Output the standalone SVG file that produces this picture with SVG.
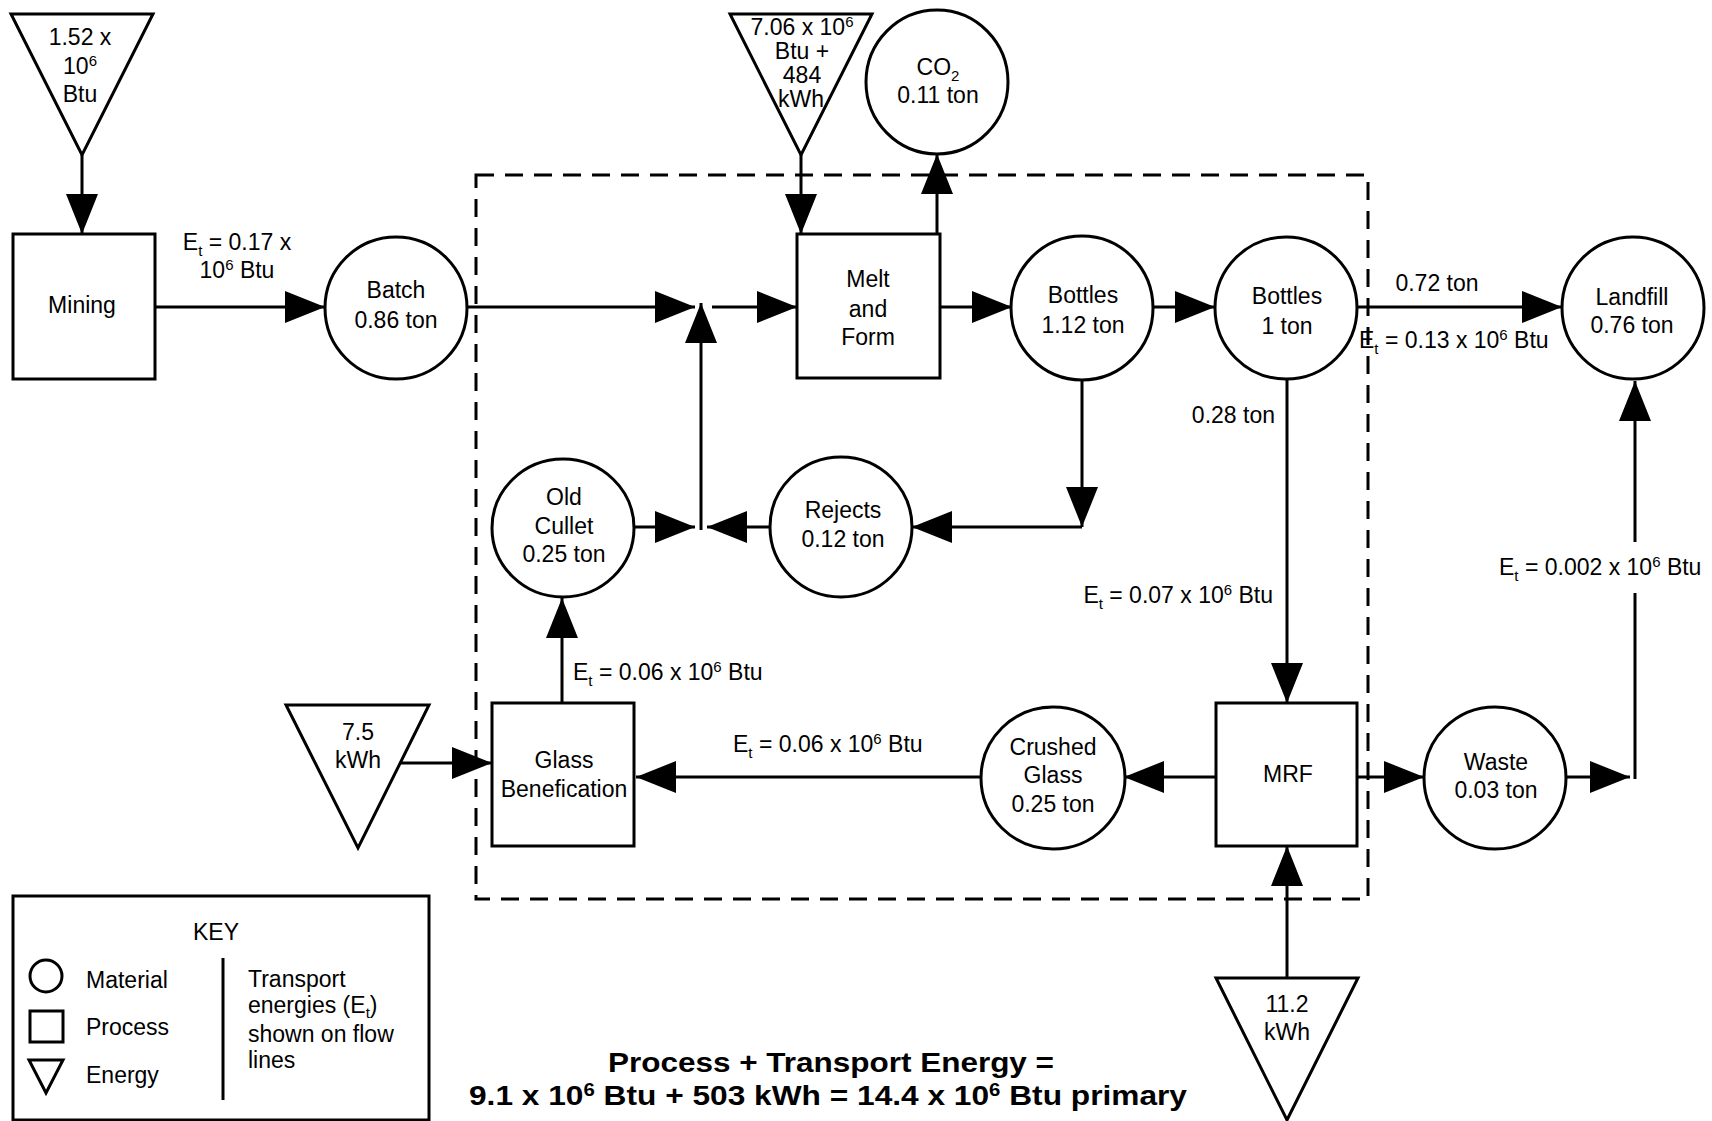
<svg xmlns="http://www.w3.org/2000/svg" width="1712" height="1121" viewBox="0 0 1712 1121">
<style>
text{font-family:"Liberation Sans",Arial,Helvetica,sans-serif;fill:#000}
.t{font-size:23px}
.m{text-anchor:middle}
.s{font-size:15px}
.node{fill:#fff;stroke:#000;stroke-width:3}
.flow{fill:none;stroke:#000;stroke-width:3}
.arr{marker-end:url(#ah)}
.bnd{fill:none;stroke:#000;stroke-width:3;stroke-dasharray:18 11}
.title{font-size:28px;font-weight:bold;text-anchor:middle}
.ts{font-size:18px}
</style>
<defs>
<marker id="ah" markerUnits="userSpaceOnUse" markerWidth="40" markerHeight="32" refX="40" refY="16" orient="auto">
<path d="M0,0 L40,16 L0,32 Z" fill="#000"/>
</marker>
</defs>
<rect width="1712" height="1121" fill="#fff"/>

<g id="boundary"><rect class="bnd" x="476" y="175" width="892" height="724"/></g>

<g id="connectors">
<path class="flow arr" d="M82,155 V234"/>
<path class="flow arr" d="M155,307 H325"/>
<path class="flow arr" d="M467,307 H695"/>
<path class="flow arr" d="M712,307 H797"/>
<path class="flow arr" d="M701,530 V303"/>
<path class="flow arr" d="M634,527 H695"/>
<path class="flow arr" d="M770,527 H707"/>
<path class="flow arr" d="M1082,380 V527"/>
<path class="flow arr" d="M1082,527 H912"/>
<path class="flow arr" d="M801,155 V234"/>
<path class="flow arr" d="M937,234 V154"/>
<path class="flow arr" d="M940,307 H1012"/>
<path class="flow arr" d="M1153,307 H1215"/>
<path class="flow arr" d="M1357,307 H1562"/>
<path class="flow arr" d="M1287,380 V703"/>
<path class="flow arr" d="M1216,777 H1124"/>
<path class="flow arr" d="M981,777 H636"/>
<path class="flow arr" d="M562,703 V598"/>
<path class="flow arr" d="M400,763 H492"/>
<path class="flow arr" d="M1357,777 H1424"/>
<path class="flow arr" d="M1566,777 H1630"/>
<path class="flow" d="M1635,779 V593"/>
<path class="flow arr" d="M1635,542 V381"/>
<path class="flow arr" d="M1287,978 V846"/>
</g>

<g id="energy-mining">
<polygon class="node" points="11,14 153,14 82,155"/>
<text class="t m" x="80" y="45">1.52 x</text>
<text class="t m" x="80" y="74">10<tspan class="s" dy="-8">6</tspan></text>
<text class="t m" x="80" y="102">Btu</text>
</g>

<g id="mining">
<rect class="node" x="13" y="234" width="142" height="145"/>
<text class="t m" x="82" y="313">Mining</text>
</g>

<g id="batch">
<circle class="node" cx="396" cy="308" r="71"/>
<text class="t m" x="396" y="298">Batch</text>
<text class="t m" x="396" y="328">0.86 ton</text>
</g>

<g id="energy-melt">
<polygon class="node" points="730,14 872,14 801,155"/>
<text class="t m" x="802" y="35">7.06 x 10<tspan class="s" dy="-8">6</tspan></text>
<text class="t m" x="802" y="59">Btu +</text>
<text class="t m" x="802" y="83">484</text>
<text class="t m" x="801" y="107">kWh</text>
</g>

<g id="co2">
<ellipse class="node" cx="937" cy="82" rx="71" ry="72"/>
<text class="t m" x="938" y="75">CO<tspan class="s" dy="6">2</tspan></text>
<text class="t m" x="938" y="103">0.11 ton</text>
</g>

<g id="melt">
<rect class="node" x="797" y="234" width="143" height="144"/>
<text class="t m" x="868" y="287">Melt</text>
<text class="t m" x="868" y="317">and</text>
<text class="t m" x="868" y="345">Form</text>
</g>

<g id="bottles-112">
<ellipse class="node" cx="1082" cy="308" rx="71" ry="72"/>
<text class="t m" x="1083" y="303">Bottles</text>
<text class="t m" x="1083" y="333">1.12 ton</text>
</g>

<g id="bottles-1">
<circle class="node" cx="1286" cy="308" r="71"/>
<text class="t m" x="1287" y="304">Bottles</text>
<text class="t m" x="1287" y="334">1 ton</text>
</g>

<g id="landfill">
<circle class="node" cx="1633" cy="308" r="71"/>
<text class="t m" x="1632" y="305">Landfill</text>
<text class="t m" x="1632" y="333">0.76 ton</text>
</g>

<g id="old-cullet">
<ellipse class="node" cx="563" cy="528" rx="71" ry="69"/>
<text class="t m" x="564" y="505">Old</text>
<text class="t m" x="564" y="534">Cullet</text>
<text class="t m" x="564" y="562">0.25 ton</text>
</g>

<g id="rejects">
<ellipse class="node" cx="841" cy="527" rx="71" ry="70"/>
<text class="t m" x="843" y="518">Rejects</text>
<text class="t m" x="843" y="547">0.12 ton</text>
</g>

<g id="glass-benefication">
<rect class="node" x="492" y="703" width="142" height="143"/>
<text class="t m" x="564" y="768">Glass</text>
<text class="t m" x="564" y="797">Benefication</text>
</g>

<g id="energy-benefication">
<polygon class="node" points="286,705 429,705 358,848"/>
<text class="t m" x="358" y="740">7.5</text>
<text class="t m" x="358" y="768">kWh</text>
</g>

<g id="crushed-glass">
<ellipse class="node" cx="1053" cy="778" rx="72" ry="71"/>
<text class="t m" x="1053" y="755">Crushed</text>
<text class="t m" x="1053" y="783">Glass</text>
<text class="t m" x="1053" y="812">0.25 ton</text>
</g>

<g id="mrf">
<rect class="node" x="1216" y="703" width="141" height="143"/>
<text class="t m" x="1288" y="782">MRF</text>
</g>

<g id="waste">
<circle class="node" cx="1495" cy="778" r="71"/>
<text class="t m" x="1496" y="770">Waste</text>
<text class="t m" x="1496" y="798">0.03 ton</text>
</g>

<g id="energy-mrf">
<polygon class="node" points="1216,978 1358,978 1287,1120"/>
<text class="t m" x="1287" y="1012">11.2</text>
<text class="t m" x="1287" y="1040">kWh</text>
</g>

<g id="flow-labels">
<text class="t m" x="237" y="250">E<tspan class="s" dy="6">t</tspan><tspan dy="-6"> = 0.17 x</tspan></text>
<text class="t m" x="237" y="278">10<tspan class="s" dy="-8">6</tspan><tspan dy="8"> Btu</tspan></text>
<text class="t m" x="1437" y="291">0.72 ton</text>
<text class="t" x="1359" y="348">E<tspan class="s" dy="6">t</tspan><tspan dy="-6"> = 0.13 x 10</tspan><tspan class="s" dy="-8">6</tspan><tspan dy="8"> Btu</tspan></text>
<text class="t" x="1275" y="423" text-anchor="end">0.28 ton</text>
<text class="t" x="1273" y="603" text-anchor="end">E<tspan class="s" dy="6">t</tspan><tspan dy="-6"> = 0.07 x 10</tspan><tspan class="s" dy="-8">6</tspan><tspan dy="8"> Btu</tspan></text>
<text class="t" x="1499" y="575">E<tspan class="s" dy="6">t</tspan><tspan dy="-6"> = 0.002 x 10</tspan><tspan class="s" dy="-8">6</tspan><tspan dy="8"> Btu</tspan></text>
<text class="t" x="573" y="680">E<tspan class="s" dy="6">t</tspan><tspan dy="-6"> = 0.06 x 10</tspan><tspan class="s" dy="-8">6</tspan><tspan dy="8"> Btu</tspan></text>
<text class="t" x="733" y="752">E<tspan class="s" dy="6">t</tspan><tspan dy="-6"> = 0.06 x 10</tspan><tspan class="s" dy="-8">6</tspan><tspan dy="8"> Btu</tspan></text>
</g>

<g id="key">
<rect class="node" x="13" y="896" width="416" height="224"/>
<text class="t m" x="216" y="940">KEY</text>
<circle class="node" cx="46" cy="976" r="16"/>
<text class="t" x="86" y="988">Material</text>
<rect class="node" x="30" y="1011" width="33" height="31"/>
<text class="t" x="86" y="1035">Process</text>
<polygon class="node" points="29,1060 63,1060 46,1093"/>
<text class="t" x="86" y="1083">Energy</text>
<line class="flow" x1="223" y1="958" x2="223" y2="1100"/>
<text class="t" x="248" y="987">Transport</text>
<text class="t" x="248" y="1013">energies (E<tspan class="s" dy="5">t</tspan><tspan dy="-5">)</tspan></text>
<text class="t" x="248" y="1042">shown on flow</text>
<text class="t" x="248" y="1068">lines</text>
</g>

<g id="summary">
<text class="title" x="831" y="1072" textLength="446" lengthAdjust="spacingAndGlyphs">Process + Transport Energy =</text>
<text class="title" x="828" y="1105" textLength="718" lengthAdjust="spacingAndGlyphs">9.1 x 10<tspan class="ts" dy="-9">6</tspan><tspan dy="9"> Btu + 503 kWh = 14.4 x 10</tspan><tspan class="ts" dy="-9">6</tspan><tspan dy="9"> Btu primary</tspan></text>
</g>
</svg>
